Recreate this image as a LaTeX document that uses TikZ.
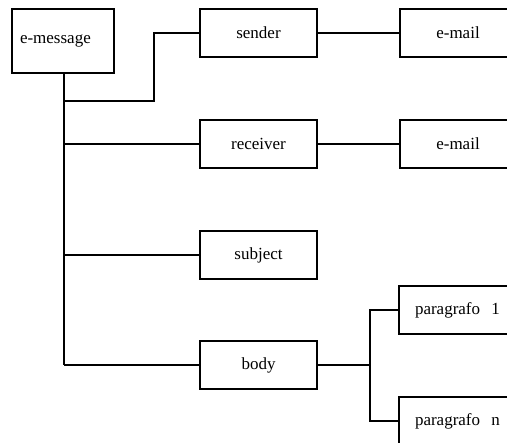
\documentclass[tikz,border=0pt]{standalone}
\usepackage{fontspec}
\setmainfont{Liberation Serif}
\usepackage{tikz}

\begin{document}
\begin{tikzpicture}
  [x=1pt,y=-1pt,line width=1.3pt,
   every node/.style={draw,rectangle,inner sep=0pt,font=\fontsize{17}{20}\selectfont},
   box/.style={minimum width=117pt,minimum height=48pt},
   leaf/.style={minimum width=116pt,minimum height=48pt}]
  \useasboundingbox (0,0) rectangle (507,443);
  \clip (0,0) rectangle (507,443);

  \node[minimum width=102pt,minimum height=64pt,text width=86pt,align=left] (msg) at (63,41) {e-message};
  \node[box] (sender) at (258.5,33) {sender};
  \node[box] (receiver) at (258.5,144) {receiver};
  \node[box] (subject) at (258.5,255) {subject};
  \node[box] (body) at (258.5,365) {body};
  \node[leaf] (mail1) at (458,33) {e-mail};
  \node[leaf] (mail2) at (458,144) {e-mail};
  \node[leaf,text width=84pt,align=left] (par1) at (457,310) {paragrafo~~1};
  \node[leaf,text width=84pt,align=left] (parn) at (457,421) {paragrafo~~n};

  \coordinate (trunk) at (64,365);
  \coordinate (bend) at (154,101);
  \coordinate (fork) at (370,365);

  \draw (msg.south -| trunk) -- (trunk);
  \draw (msg.south |- bend) -| (bend) |- (sender.west);
  \draw (msg.south |- receiver) -- (receiver.west);
  \draw (msg.south |- subject) -- (subject.west);
  \draw (trunk) -- (body.west);

  \draw (sender) -- (mail1);
  \draw (receiver) -- (mail2);

  \draw (body) -- (fork);
  \draw (fork) |- (par1.west);
  \draw (fork) |- (parn.west);
\end{tikzpicture}
\end{document}
